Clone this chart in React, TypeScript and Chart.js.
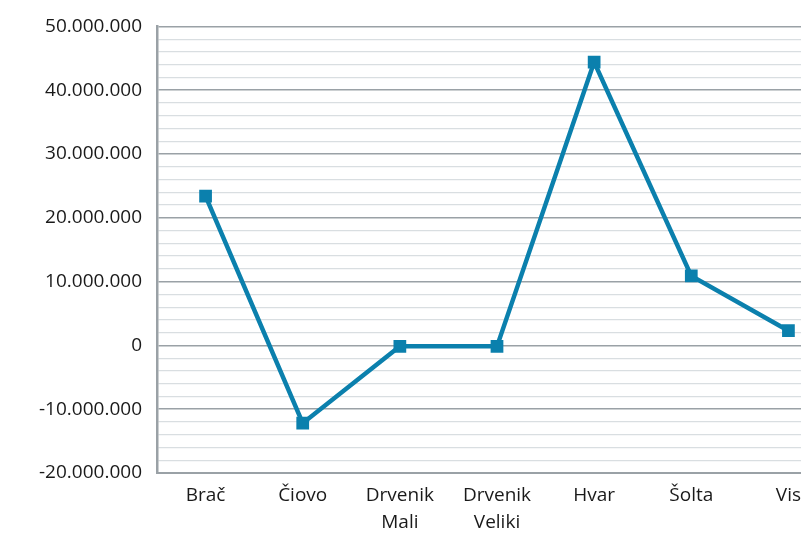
import React, { useEffect, useRef } from "react";
import { Chart, registerables } from "chart.js";

Chart.register(...registerables);

const categories: (string | string[])[] = [
  "Brač",
  "Čiovo",
  ["Drvenik", "Mali"],
  ["Drvenik", "Veliki"],
  "Hvar",
  "Šolta",
  "Vis",
];
const values = [23400000, -12200000, -150000, -150000, 44400000, 10900000, 2300000];
const yMin = -20000000;
const yMax = 50000000;
const yMinorStep = 2000000;
const yLabelStep = 10000000;

const fmt = (v: number) => {
  const s = Math.abs(Math.round(v)).toString().replace(/\B(?=(\d{3})+(?!\d))/g, ".");
  return (v < 0 ? "-" : "") + s;
};

const LINE = "#0b80ad";
const MAJOR = "#9aa1a6";
const MINOR = "#d9dee1";
const FONT = "'Open Sans', 'Noto Sans', sans-serif";

export default function App() {
  const ref = useRef<HTMLCanvasElement>(null);
  useEffect(() => {
    if (!ref.current) return;
    const chart = new Chart(ref.current, {
      type: "line",
      data: {
        labels: categories,
        datasets: [
          {
            data: values,
            borderColor: LINE,
            backgroundColor: LINE,
            borderWidth: 4.5,
            pointStyle: "rect",
            pointRadius: 9,
            pointBorderWidth: 0,
            pointBackgroundColor: LINE,
            tension: 0,
          },
        ],
      },
      options: {
        animation: false,
        responsive: false,
        layout: { padding: { left: 0, top: 25, right: 4, bottom: 0 } },
        plugins: { legend: { display: false }, tooltip: { enabled: false } },
        scales: {
          x: {
            type: "category",
            offset: true,
            grid: { display: false, drawTicks: false },
            border: { display: true, color: MAJOR, width: 2 },
            ticks: {
              color: "#1a1a1a",
              padding: 9,
              maxRotation: 0,
              autoSkip: false,
              font: { family: FONT, size: 19, lineHeight: 1.42 },
            },
            afterFit: (s: any) => {
              s.height = 61;
            },
          },
          y: {
            min: yMin,
            max: yMax,
            grid: {
              drawTicks: false,
              color: (c: any) =>
                c.tick && Math.abs(c.tick.value % yLabelStep) < 1 ? MAJOR : MINOR,
              lineWidth: (c: any) =>
                c.tick && Math.abs(c.tick.value % yLabelStep) < 1 ? 1.5 : 1.2,
            },
            border: { display: true, color: MAJOR, width: 2.5 },
            ticks: {
              stepSize: yMinorStep,
              autoSkip: false,
              color: "#1a1a1a",
              padding: 15,
              font: { family: FONT, size: 19 },
              callback: (v: any) => (Math.abs(Number(v) % yLabelStep) < 1 ? fmt(Number(v)) : ""),
            },
            afterFit: (s: any) => {
              s.width = 157;
            },
          },
        },
      },
    });
    return () => chart.destroy();
  }, []);
  return (
    <div
      style={{
        position: "fixed",
        left: 0,
        top: 0,
        width: 801,
        height: 534,
        overflow: "hidden",
        background: "#fff",
      }}
    >
      <canvas ref={ref} width={846} height={534} style={{ display: "block" }} />
    </div>
  );
}
